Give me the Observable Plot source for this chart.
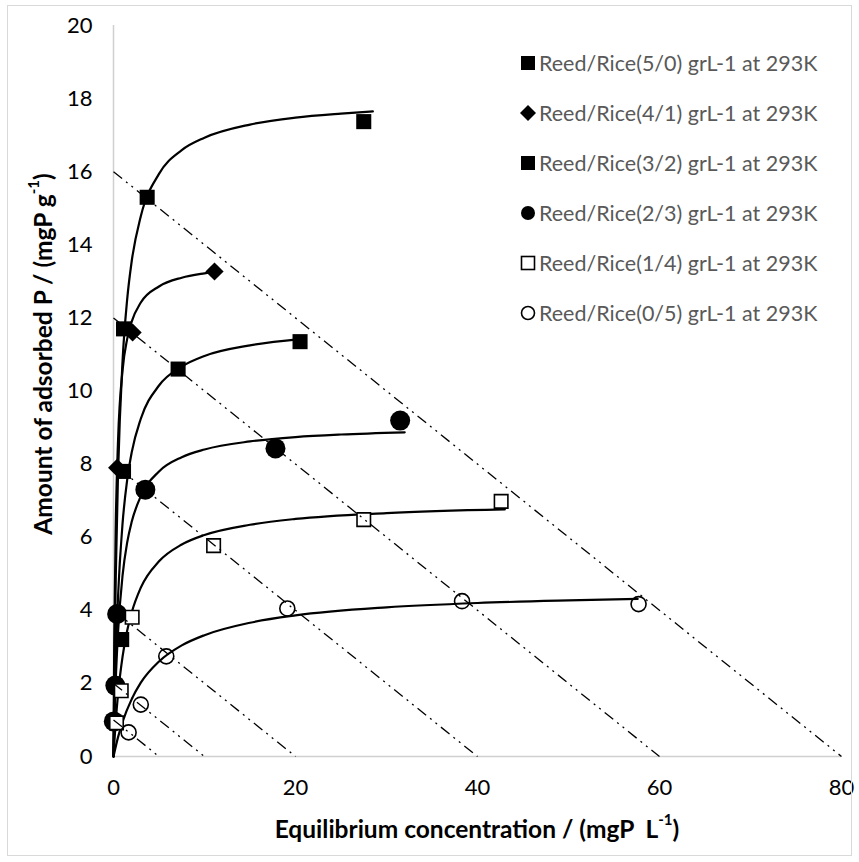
<!DOCTYPE html>
<html>
<head>
<meta charset="utf-8">
<script src="https://cdn.jsdelivr.net/npm/d3@7"></script>
<script src="https://cdn.jsdelivr.net/npm/@observablehq/plot@0.6"></script>
<style>
  body { margin: 0; background: #fff; }
  #wrap { position: relative; width: 859px; height: 862px; overflow: hidden; }
  #frame { position: absolute; left: 7px; top: 5px; width: 845px; height: 851px; border: 1px solid #d9d9d9; box-sizing: border-box; pointer-events: none; }
  #legend { position: absolute; left: 0; top: 0; font-family: Lato, sans-serif; font-size: 21.5px; color: #595959; }
  .lrow { position: absolute; display: flex; align-items: center; white-space: nowrap; height: 26px; }
  .lrow svg { margin-right: 2px; }
</style>
</head>
<body>
<div id="wrap">
  <div id="chart"></div>
  <div id="legend"></div>
  <div id="frame"></div>
</div>
<script>
// ---- data ----
const seriesNames = [
  "Reed/Rice(5/0) grL-1 at 293K",
  "Reed/Rice(4/1) grL-1 at 293K",
  "Reed/Rice(3/2) grL-1 at 293K",
  "Reed/Rice(2/3) grL-1 at 293K",
  "Reed/Rice(1/4) grL-1 at 293K",
  "Reed/Rice(0/5) grL-1 at 293K"
];
// measured points (Ce, q)
const ce50 = [0.9, 1.1, 3.7, 27.5];
const q50  = [3.2, 11.7, 15.3, 17.37];
const ce41 = [0.4, 2.1, 11.1];
const q41  = [7.9, 11.6, 13.27];
const ce32 = [1.1, 7.1, 20.5];
const q32  = [7.8, 10.6, 11.35];
const ce23 = [0.03, 0.2, 0.4, 3.5, 17.8, 31.5];
const q23  = [0.96, 1.94, 3.9, 7.3, 8.43, 9.19];
const ce14 = [0.33, 0.85, 2.05, 11.0, 27.5, 42.6];
const q14  = [0.92, 1.8, 3.81, 5.77, 6.48, 6.98];
const ce05 = [1.66, 3.0, 5.8, 19.1, 38.3, 57.7];
const q05  = [0.66, 1.42, 2.74, 4.05, 4.25, 4.17];

// fitted isotherm curves
const fitCe50 = [0, 0.1, 0.25, 0.5, 1, 1.5, 2, 3, 5, 7.5, 10, 15, 20, 25, 28.5];
const fitQ50  = [0, 2.36, 4.93, 7.74, 10.84, 12.5, 13.55, 14.78, 15.94, 16.59, 16.93, 17.29, 17.48, 17.59, 17.65];
const fitCe41 = [0, 0.05, 0.1, 0.25, 0.5, 1, 1.5, 2, 3, 5, 7.5, 10, 11.1];
const fitQ41  = [0, 2.03, 3.53, 6.35, 8.65, 10.58, 11.42, 11.9, 12.42, 12.86, 13.1, 13.22, 13.26];
const fitCe32 = [0, 0.1, 0.25, 0.5, 1, 1.5, 2, 3, 5, 7.5, 10, 15, 20.5];
const fitQ32  = [0, 1.24, 2.68, 4.37, 6.39, 7.56, 8.32, 9.24, 10.15, 10.67, 10.96, 11.25, 11.42];
const fitCe23 = [0, 0.1, 0.25, 0.5, 1, 1.5, 2, 3, 5, 7.5, 10, 15, 20, 25, 32];
const fitQ23  = [0, 0.97, 2.1, 3.41, 4.96, 5.85, 6.42, 7.12, 7.8, 8.19, 8.4, 8.62, 8.74, 8.81, 8.87];
const fitCe14 = [0, 0.1, 0.25, 0.5, 1, 1.5, 2, 3, 5, 7.5, 10, 15, 20, 30, 43];
const fitQ14  = [0, 0.42, 0.97, 1.71, 2.74, 3.44, 3.94, 4.62, 5.34, 5.8, 6.06, 6.34, 6.5, 6.66, 6.76];
const fitCe05 = [0, 0.5, 1, 2, 3, 5, 7.5, 10, 15, 20, 30, 40, 50, 57.6];
const fitQ05  = [0, 0.53, 0.95, 1.57, 2.02, 2.6, 3.04, 3.32, 3.66, 3.86, 4.08, 4.2, 4.27, 4.31];

// operating (mass balance) lines: from (0, qStart) to (ceEnd, 0)
const opQStart = [1, 2, 4, 8, 12, 16];
const opCeEnd  = [5, 10, 20, 40, 60, 80];

const xTicks = [0, 20, 40, 60, 80];
const yTicks = [0, 2, 4, 6, 8, 10, 12, 14, 16, 18, 20];

// ---- build tables ----
const pts = (ce, q) => ce.map((c, i) => ({ce: c, q: q[i]}));
const fits = [
  pts(fitCe50, fitQ50), pts(fitCe41, fitQ41), pts(fitCe32, fitQ32),
  pts(fitCe23, fitQ23), pts(fitCe14, fitQ14), pts(fitCe05, fitQ05)
];
const ops = opQStart.map((q, i) => ({q0: q, ce1: opCeEnd[i]}));

const lineMarks = fits.map(f => Plot.line(f, {x: "ce", y: "q", curve: "monotone-x", stroke: "#000", strokeWidth: 2.2}));

const plot = Plot.plot({
  width: 859,
  height: 862,
  marginLeft: 113,
  marginRight: 18,
  marginTop: 25,
  marginBottom: 106,
  style: {fontFamily: "Lato, sans-serif", fontSize: "22px", color: "#000", background: "transparent", overflow: "visible"},
  x: {domain: [0, 80], ticks: xTicks, tickSize: 0, tickPadding: 23, label: null},
  y: {domain: [0, 20], ticks: yTicks, tickSize: 0, tickPadding: 21, label: null},
  marks: [
    Plot.ruleX([0], {y1: 0, y2: 20, stroke: "#d0d0d0", strokeWidth: 1.5}),
    Plot.ruleY([0], {x1: 0, x2: 80, stroke: "#d0d0d0", strokeWidth: 1.5}),
    ...lineMarks,
    Plot.dot(pts(ce50, q50), {x: "ce", y: "q", symbol: "square", r: 8.5, fill: "#000"}),
    Plot.dot(pts(ce41, q41), {x: "ce", y: "q", symbol: "diamond2", r: 8.2, fill: "#000"}),
    Plot.dot(pts(ce32, q32), {x: "ce", y: "q", symbol: "square", r: 8.5, fill: "#000"}),
    Plot.dot(pts(ce23, q23), {x: "ce", y: "q", r: 10, fill: "#000"}),
    Plot.dot(pts(ce14, q14), {x: "ce", y: "q", symbol: "square", r: 7.6, fill: "#fff", stroke: "#000", strokeWidth: 1.6}),
    Plot.link(ops, {x1: () => 0, y1: "q0", x2: "ce1", y2: () => 0, stroke: "#000", strokeWidth: 1.3, strokeDasharray: "11,5,2,5,2,5"}),
    Plot.dot(pts(ce05, q05), {x: "ce", y: "q", r: 7.5, fill: "none", stroke: "#000", strokeWidth: 1.6})
  ]
});

document.getElementById("chart").appendChild(plot);

// axis titles with superscripts
const svg = d3.select(plot);
const yt = svg.append("text")
  .attr("transform", "translate(42,354) rotate(-90)")
  .attr("text-anchor", "middle")
  .attr("dominant-baseline", "central")
  .attr("font-family", "Lato, sans-serif")
  .attr("font-weight", "bold")
  .attr("font-size", 24.5)
  .attr("fill", "#000");
yt.append("tspan").text("Amount of adsorbed P / (mgP g");
yt.append("tspan").attr("font-size", 15).attr("dy", -9).text("-1");
yt.append("tspan").attr("dy", 9).text(")");

const xt = svg.append("text")
  .attr("x", 477).attr("y", 828)
  .attr("text-anchor", "middle")
  .attr("dominant-baseline", "central")
  .attr("font-family", "Lato, sans-serif")
  .attr("font-weight", "bold")
  .attr("font-size", 24.5)
  .attr("fill", "#000");
xt.append("tspan").text("Equilibrium concentration / (mgP\u00a0 L");
xt.append("tspan").attr("font-size", 15).attr("dy", -9).text("-1");
xt.append("tspan").attr("dy", 9).text(")");

// legend
const legendSymbols = [
  '<rect x="2" y="2" width="14" height="14" fill="#000"/>',
  '<path d="M9 1 L17 9 L9 17 L1 9 Z" fill="#000"/>',
  '<rect x="2" y="2" width="14" height="14" fill="#000"/>',
  '<circle cx="9" cy="9" r="7" fill="#000"/>',
  '<rect x="2.5" y="2.5" width="13" height="13" fill="#fff" stroke="#000" stroke-width="1.6"/>',
  '<circle cx="9" cy="9" r="6.5" fill="#fff" stroke="#000" stroke-width="1.6"/>'
];
const legend = document.getElementById("legend");
seriesNames.forEach((name, i) => {
  const row = document.createElement("div");
  row.className = "lrow";
  row.style.left = "519px";
  row.style.top = (63 + i * 50 - 13) + "px";
  row.innerHTML = '<svg width="18" height="18" viewBox="0 0 18 18">' + legendSymbols[i] + '</svg><span>' + name + '</span>';
  legend.appendChild(row);
});
</script>
</body>
</html>
